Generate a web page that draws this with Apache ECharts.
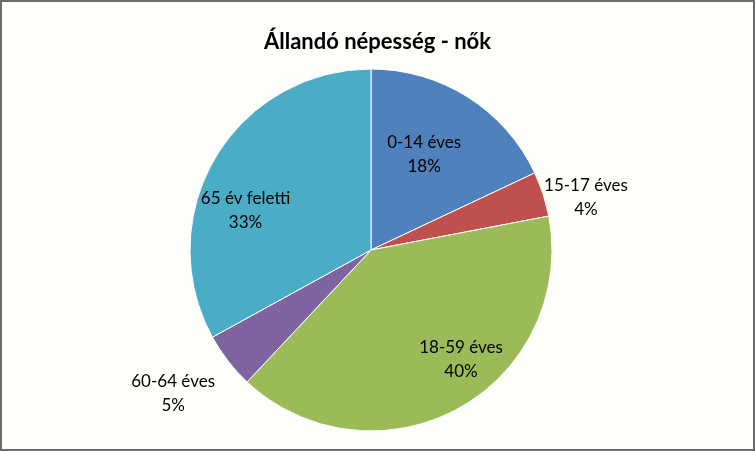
<!DOCTYPE html>
<html style="height: 100%">
    <head>
        <title>Állandó népesség - nők</title>
        <meta charset="utf-8">
    </head>
    <body style="height: 100%; margin: 0">
        <div id="container" style="height: 100%; box-sizing: border-box; border: 2px solid #6b6b6b; background: #fefefb"></div>

        <script type="text/javascript" src="https://cdn.jsdelivr.net/npm/echarts@6.0.0/dist/echarts.min.js"></script>
        <script type="text/javascript">
            var dom = document.getElementById("container");
            var myChart = echarts.init(dom);

            // korcsoportok és arányok (%)
            var categories = ['0-14 éves', '15-17 éves', '18-59 éves', '60-64 éves', '65 év feletti'];
            var values = [18, 4, 40, 5, 33];
            var colors = ['#4f81bd', '#c0504d', '#9bbb59', '#8064a2', '#4bacc6'];
            // címkék eltolása a szelet közepétől (Excel "best fit" utánzása)
            var labelOffsets = [[3, -17], [126, -24], [45, 28], [-124, 86], [-45, 8]];

            var data = categories.map(function (name, i) {
                return {
                    name: name,
                    value: values[i],
                    itemStyle: { color: colors[i] },
                    label: { offset: labelOffsets[i] }
                };
            });

            var option = {
                backgroundColor: 'transparent',
                title: {
                    text: 'Állandó népesség - nők',
                    left: 'center',
                    top: 24,
                    textStyle: {
                        fontFamily: 'Lato',
                        fontSize: 22,
                        fontWeight: 'bold',
                        color: '#000'
                    }
                },
                series: [{
                    type: 'pie',
                    center: [369, 248],
                    radius: 181,
                    startAngle: 90,
                    clockwise: true,
                    animation: false,
                    itemStyle: { borderColor: '#fff', borderWidth: 1 },
                    label: {
                        position: 'inside',
                        formatter: '{b}\n{d}%',
                        fontFamily: 'Lato',
                        fontSize: 17,
                        lineHeight: 24,
                        color: '#000',
                        align: 'center'
                    },
                    labelLine: { show: false },
                    data: data
                }]
            };

            myChart.setOption(option);

            window.onresize = function () {
                myChart.resize();
            }
        </script>
    </body>
</html>
